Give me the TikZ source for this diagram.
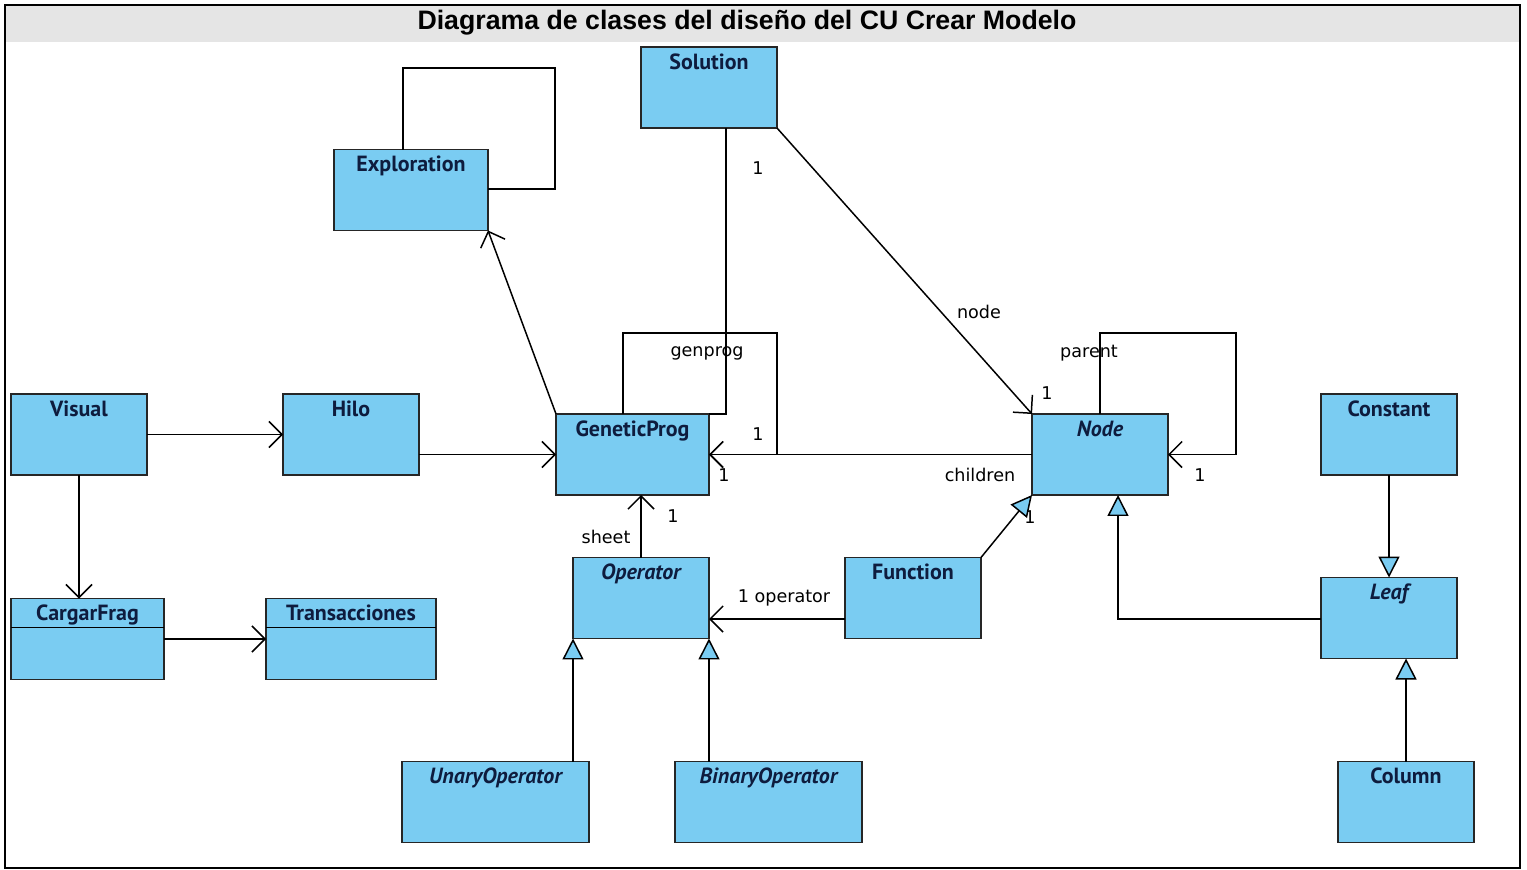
\documentclass[tikz,border=0pt]{standalone}
\usepackage{fontspec}
\usetikzlibrary{arrows.meta}
\newfontfamily\classfont{PT Sans}
\newfontfamily\tagfont{DejaVu Sans}
\newfontfamily\titlefont{Liberation Sans}
\definecolor{umlblue}{RGB}{122,204,242}
\definecolor{classink}{RGB}{14,28,62}
\definecolor{headgray}{RGB}{229,229,229}
\tikzset{
	classbox/.style = {rectangle, draw=black!85, fill=umlblue, line width=1.1pt, outer sep=0pt, minimum width=2.72cm, minimum height=1.62cm, inner xsep=2pt, inner ysep=0pt, text height=0.44cm, text depth=1.18cm, text=classink, font=\classfont\fontsize{12.5}{14}\selectfont\bfseries},
	abstract/.style = {classbox, font=\classfont\fontsize{12.5}{14}\selectfont\bfseries\itshape},
	tag/.style = {inner sep=1pt, font=\tagfont\fontsize{10}{12}\selectfont},
	plainline/.style = {draw, line width=0.85pt},
	assoc/.style = {plainline, -{Straight Barb[length=0.26cm, width=0.52cm]}},
	inherit/.style = {plainline, -{Triangle[length=0.42cm, width=0.42cm, fill=umlblue]}}
}

\begin{document}
\begin{tikzpicture}[x=0.02cm, y=-0.02cm]
	\useasboundingbox (0,0) rectangle (1527,869);
	% Define frame and heading
	\fill[headgray] (5,5) rectangle (1520,42);
	\draw[line width=1.1pt] (5,5) rectangle (1520,868);
	\node (heading) at (747,23) {\titlefont\fontsize{15.2}{17}\selectfont\bfseries Diagrama de clases del diseño del CU Crear Modelo};

	% Define classes
	\node (solution) [classbox] at (709,87.5) {Solution};
	\node (explor) [classbox, minimum width=3.08cm] at (411,190) {Exploration};
	\node (visual) [classbox] at (79,434.5) {Visual};
	\node (hilo) [classbox] at (351,434.5) {Hilo};
	\node (genprog) [classbox, minimum width=3.06cm] at (632.5,454.5) {GeneticProg};
	\node (node) [abstract] at (1100,454.5) {Node};
	\node (constant) [classbox] at (1389,434.5) {Constant};
	\node (cargar) [classbox, minimum width=3.06cm] at (87.5,639) {CargarFrag};
	\node (trans) [classbox, minimum width=3.4cm] at (351,639) {Transacciones};
	\node (oper) [abstract] at (641,598) {Operator};
	\node (function) [classbox] at (913,598) {Function};
	\node (leaf) [abstract] at (1389,618) {Leaf};
	\node (unary) [abstract, minimum width=3.74cm] at (495.5,802) {UnaryOperator};
	\node (binary) [abstract, minimum width=3.74cm] at (768.5,802) {BinaryOperator};
	\node (column) [classbox] at (1406,802) {Column};
	\draw[line width=1.1pt] ([yshift=-0.58cm]cargar.north west) -- ([yshift=-0.58cm]cargar.north east);
	\draw[line width=1.1pt] ([yshift=-0.58cm]trans.north west) -- ([yshift=-0.58cm]trans.north east);

	% Define role names and multiplicities
	\node (m_solution) [tag] at (758,168) {1};
	\node (r_node) [tag] at (979,312) {node};
	\node (r_genprog) [tag] at (707,353) {genprog};
	\node (r_parent) [tag] at (1089,353) {parent};
	\node (m_node) [tag] at (1047,393) {1};
	\node (m_loop) [tag] at (758,434) {1};
	\node (m_children) [tag] at (724,475) {1};
	\node (r_children) [tag] at (980,475) {children};
	\node (m_parent) [tag] at (1200,475) {1};
	\node (m_sheet) [tag] at (673,516) {1};
	\node (r_sheet) [tag] at (606,537) {sheet};
	\node (m_function) [tag] at (1030,517) {1};
	\node (r_operator) [tag] at (784,598) {1 operator};

	% Define links
	\path [plainline] (explor.north -| 403,0) |- (555,68) |- (explor.east |- 0,189);
	\path [assoc] (genprog.north west) -- (explor.south east);
	\path [plainline] (solution.south -| 726,0) |- (genprog.north east);
	\path [assoc] (genprog.north -| 623,0) |- (777,333) |- (genprog.east);
	\path [assoc] (solution.south east) -- (node.north west);
	\path [assoc] (node.north) |- (1236,333) |- (node.east);
	\path [assoc] (node.west) -- (genprog.east);
	\path [assoc] (visual.east) -- (hilo.west);
	\path [assoc] (hilo.east |- genprog.west) -- (genprog.west);
	\path [assoc] (visual.south) -- (visual.south |- cargar.north);
	\path [assoc] (cargar.east) -- (trans.west);
	\path [assoc] (oper.north) -- (oper.north |- genprog.south);
	\path [assoc] (function.west |- 0,619) -- (oper.east |- 0,619);
	\path [inherit] (function.north east) -- (node.south west);
	\path [inherit] (leaf.west |- 0,619) -| (node.south -| 1118,0);
	\path [inherit] (constant.south) -- (leaf.north);
	\path [inherit] (column.north) -- (column.north |- leaf.south);
	\path [inherit] (oper.south west |- unary.north) -- (oper.south west);
	\path [inherit] (oper.south east |- binary.north) -- (oper.south east);
\end{tikzpicture}
\end{document}
